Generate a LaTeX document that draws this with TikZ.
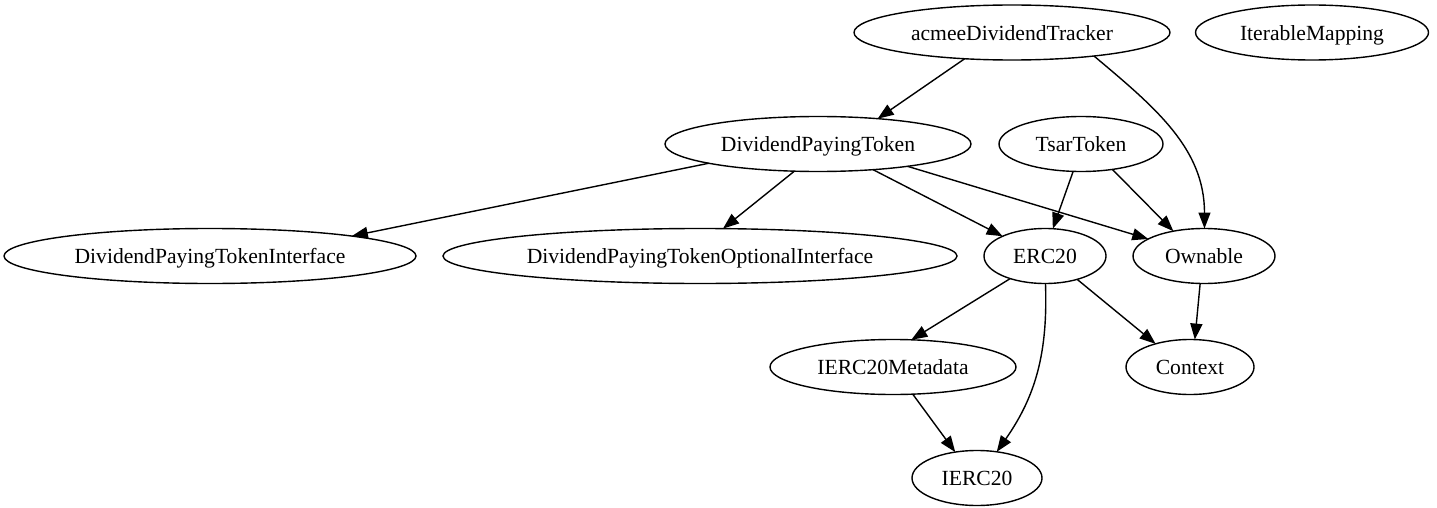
\documentclass[tikz,border=0pt]{standalone}
\usepackage{fontspec}
\setmainfont{Liberation Serif}
\usetikzlibrary{shapes.geometric,arrows.meta}
\tikzset{
  gnode/.style={draw, ellipse, line width=1.4pt, inner sep=0pt, outer sep=0pt,
    minimum height=55pt, font=\fontsize{21.6}{25}\selectfont},
  gedge/.style={line width=1.4pt, -{Triangle[length=16pt,width=12pt]}},
}
\newcommand{\lbl}[1]{\makebox[0pt]{\vphantom{Ag}\smash{\raisebox{-3pt}{#1}}}}
\begin{document}
\begin{tikzpicture}[x=1pt,y=-1pt]
\useasboundingbox (0,0) rectangle (1437,508);
\node[gnode, minimum width=316pt] (acmee) at (1012,32.5) {\lbl{acmeeDividendTracker}};
\node[gnode, minimum width=233pt] (iter) at (1312,32.5) {\lbl{IterableMapping}};
\node[gnode, minimum width=306pt] (dpt) at (818,144) {\lbl{DividendPayingToken}};
\node[gnode, minimum width=164pt] (tsar) at (1081,144) {\lbl{TsarToken}};
\node[gnode, minimum width=412pt] (dpti) at (210,256) {\lbl{DividendPayingTokenInterface}};
\node[gnode, minimum width=514pt] (dptoi) at (700,256) {\lbl{DividendPayingTokenOptionalInterface}};
\node[gnode, minimum width=122pt] (erc) at (1045,256) {\lbl{ERC20}};
\node[gnode, minimum width=142pt] (own) at (1204,256) {\lbl{Ownable}};
\node[gnode, minimum width=246pt] (meta) at (893,367) {\lbl{IERC20Metadata}};
\node[gnode, minimum width=128pt] (ctx) at (1190,367) {\lbl{Context}};
\node[gnode, minimum width=130pt] (ierc) at (977,478) {\lbl{IERC20}};

\draw[gedge] (acmee.209) -- (dpt.23);
\draw[gedge] (acmee.-16) to[out=-40,in=90] (own.89);
\draw[gedge] (dpt.190) -- (dpti.8);
\draw[gedge] (dpt.229) -- (dptoi.50);
\draw[gedge] (dpt.-25) -- (erc.155);
\draw[gedge] (dpt.-14) -- (own.163);
\draw[gedge] (tsar.254) -- (erc.74);
\draw[gedge] (tsar.-39) -- (own.141);
\draw[gedge] (erc.213) -- (meta.56);
\draw[gedge] (erc.-36) -- (ctx.146);
\draw[gedge] (erc.-89) to[out=-88,in=55] (ierc.53);
\draw[gedge] (own.262) -- (ctx.80);
\draw[gedge] (meta.-54) -- (ierc.130);
\end{tikzpicture}
\end{document}
